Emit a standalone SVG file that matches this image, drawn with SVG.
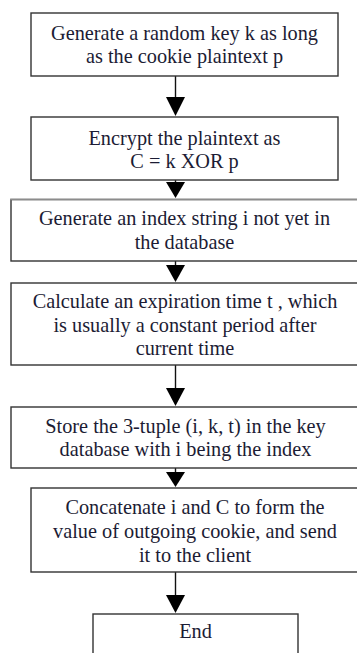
<svg xmlns="http://www.w3.org/2000/svg" width="357" height="653" viewBox="0 0 357 653">
  <defs>
    <style>
      .box { fill: #ffffff; stroke: #333333; stroke-width: 1.4; }
      .lbl { font-family: "Liberation Serif", "Times New Roman", serif; font-size: 20.3px; fill: #1c1c34; text-anchor: middle; }
      .wire { stroke: #111111; stroke-width: 1.4; fill: none; }
      .head { fill: #000000; }
    </style>
  </defs>
  <rect width="357" height="653" fill="#ffffff"/>

  <!-- connectors -->
  <g id="connectors">
    <line class="wire" x1="175.5" y1="76" x2="175.5" y2="100"/>
    <polygon class="head" points="166,97 185,97 175.5,116"/>
    <line class="wire" x1="175.5" y1="180" x2="175.5" y2="184"/>
    <polygon class="head" points="166,182 185,182 175.5,198"/>
    <line class="wire" x1="175.5" y1="261" x2="175.5" y2="266"/>
    <polygon class="head" points="166,265 185,265 175.5,282"/>
    <line class="wire" x1="175.5" y1="365" x2="175.5" y2="390"/>
    <polygon class="head" points="166,388 185,388 175.5,406"/>
    <line class="wire" x1="175.5" y1="468" x2="175.5" y2="473"/>
    <polygon class="head" points="166,472 185,472 175.5,487"/>
    <line class="wire" x1="175.5" y1="572" x2="175.5" y2="597"/>
    <polygon class="head" points="166,595 185,595 175.5,613"/>
  </g>

  <g id="step-key">
    <rect class="box" x="31" y="13" width="307" height="63"/>
    <text class="lbl" x="184.5" y="40">Generate a random key k as long</text>
    <text class="lbl" x="184.5" y="63">as the cookie plaintext p</text>
  </g>

  <g id="step-encrypt">
    <rect class="box" x="31" y="117" width="307" height="63"/>
    <text class="lbl" x="184.5" y="145">Encrypt the plaintext as</text>
    <text class="lbl" x="184.5" y="168">C = k XOR p</text>
  </g>

  <g id="step-index">
    <rect class="box" x="11" y="199.5" width="350" height="61.5"/>
    <line x1="10" y1="199.5" x2="357" y2="199.5" stroke="#8c8c8c" stroke-width="1.4"/>
    <text class="lbl" x="184.5" y="225">Generate an index string i not yet in</text>
    <text class="lbl" x="184.5" y="249">the database</text>
  </g>

  <g id="step-expire">
    <rect class="box" x="11" y="283" width="350" height="82"/>
    <text class="lbl" x="185" y="308">Calculate an expiration time t , which</text>
    <text class="lbl" x="185" y="332">is usually a constant period after</text>
    <text class="lbl" x="185" y="355">current time</text>
  </g>

  <g id="step-store">
    <rect class="box" x="11" y="407" width="350" height="61"/>
    <text class="lbl" x="185.5" y="433">Store the 3-tuple (i, k, t) in the key</text>
    <text class="lbl" x="185.5" y="456">database with i being the index</text>
  </g>

  <g id="step-send">
    <rect class="box" x="31" y="488" width="330" height="84"/>
    <text class="lbl" x="195" y="514">Concatenate i and C to form the</text>
    <text class="lbl" x="195" y="538">value of outgoing cookie, and send</text>
    <text class="lbl" x="195" y="562">it to the client</text>
  </g>

  <g id="step-end">
    <rect class="box" x="93" y="614" width="205" height="50"/>
    <text class="lbl" x="195.5" y="638">End</text>
  </g>
</svg>
